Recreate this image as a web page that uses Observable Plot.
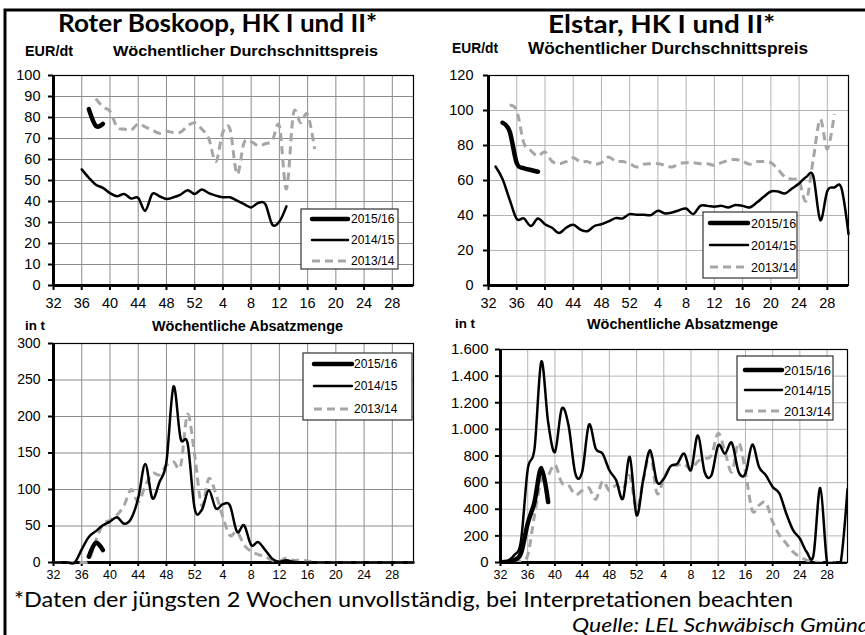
<!DOCTYPE html>
<html>
<head>
<meta charset="utf-8">
<script src="https://cdn.jsdelivr.net/npm/d3@7"></script>
<script src="https://cdn.jsdelivr.net/npm/@observablehq/plot@0.6"></script>
<style>
  body { margin: 0; background: #fff; }
  #root { position: relative; width: 865px; height: 635px; overflow: hidden; background: #fff; }
  .chart { position: absolute; }
  .chart svg { overflow: visible; }
  #overlay { position: absolute; left: 0; top: 0; pointer-events: none; }
</style>
</head>
<body>
<div id="root"></div>
<script>
// ---------- Kategorien (Kalenderwochen) ----------
const weekLabels = [32,33,34,35,36,37,38,39,40,41,42,43,44,45,46,47,48,49,50,51,52,
  1,2,3,4,5,6,7,8,9,10,11,12,13,14,15,16,17,18,19,20,21,22,23,24,25,26,27,28,29,30,31];
const weekTickLabels = [32,36,40,44,48,52,4,8,12,16,20,24,28];
const seasons = ["2015/16", "2014/15", "2013/14"];

// ---------- Roter Boskoop: Wöchentlicher Durchschnittspreis (EUR/dt) ----------
const boskoopPreis1516Start = 37;
const boskoopPreis1516 = [84, 76, 77];
const boskoopPreis1415Start = 36;
const boskoopPreis1415 = [55.3, 51.3, 48, 46.5, 44, 42.5, 43.6, 41.4, 41.7, 35.6, 43.6, 42.5, 41.2, 42, 43.3,
  45.4, 43.6, 45.7, 44, 42.8, 42, 42, 40.4, 38.8, 37.2, 39.3, 38.8, 29, 30.5, 37.7];
const boskoopPreis1314Start = 38;
const boskoopPreis1314 = [89, 85, 83, 75.5, 74.5, 74, 77, 75.5, 74, 72.5, 73.5, 72.8, 73, 76, 77.5, 74.5,
  70, 59, 73, 74.5, 53, 68, 68.5, 66.5, 67.5, 69, 76, 46, 82, 77.5, 81.5, 65];
const boskoopPreisTicks = [0,10,20,30,40,50,60,70,80,90,100];

// ---------- Elstar: Wöchentlicher Durchschnittspreis (EUR/dt) ----------
const elstarPreis1516Start = 34;
const elstarPreis1516 = [93, 88, 70, 67, 66, 65];
const elstarPreis1415Start = 33;
const elstarPreis1415 = [68, 60.7, 49, 38, 38.3, 34, 38.3, 35, 33, 30, 33, 34.7, 32, 31, 34, 35, 36.6, 38.5,
  38.3, 40.8, 40.4, 40.4, 40.2, 42.7, 41.2, 41.7, 43, 44, 40.8, 45.5, 45.5, 45, 45.5, 44.6, 46, 45.5, 44.6,
  47.4, 50.7, 53.7, 53.7, 52.6, 55.4, 58.3, 62, 62.6, 37.4, 54, 56, 55.6, 29.4];
const elstarPreis1314Start = 35;
const elstarPreis1314 = [103, 100, 81.6, 77, 74, 76.3, 71, 69.6, 70.8, 73, 70.8, 70.8, 69.3, 70.2, 73.4, 71,
  70.8, 69.6, 67.7, 69.3, 69.6, 69.6, 68.7, 67.7, 69.6, 70.2, 70.2, 69.6, 69.6, 68.7, 70.2, 71.5, 72, 71,
  69.3, 70.8, 70.8, 70.2, 66.4, 62, 60.7, 59.8, 48.4, 72, 95, 78, 98];
const elstarPreisTicks = [0,20,40,60,80,100,120];

// ---------- Roter Boskoop: Wöchentliche Absatzmenge (t) ----------
const boskoopMenge1516Start = 37;
const boskoopMenge1516 = [8, 27, 17];
const boskoopMenge1415Start = 32;
const boskoopMenge1415 = [0, 0, 0, 0, 18, 35, 43, 51, 56, 62, 53, 60, 88, 135, 88, 110, 138, 241, 170, 163,
  74, 72, 99, 74, 80, 78, 42, 51, 24, 28, 17, 5, 1, 3, 1, 0, 0, 0, 0, 0, 0, 0, 0, 0, 0, 0, 0, 0, 0, 0, 0, 0];
const boskoopMenge1314Start = 32;
const boskoopMenge1314 = [0, 0, 0, 0, 0, 3, 30, 52, 58, 65, 78, 100, 83, 105, 122, 120, 133, 138, 132, 203,
  147, 78, 115, 94, 62, 37, 42, 24, 15, 11, 8, 3, 2, 6, 3, 3, 2, 0, 0, 0, 0, 0, 0, 0, 0, 0, 0, 0, 0, 0, 0, 0];
const boskoopMengeTicks = [0,50,100,150,200,250,300];

// ---------- Elstar: Wöchentliche Absatzmenge (t) ----------
const elstarMenge1516Start = 32;
const elstarMenge1516 = [0, 5, 18, 68, 293, 455, 710, 455];
const elstarMenge1415Start = 32;
const elstarMenge1415 = [0, 10, 55, 160, 700, 855, 1510, 1055, 830, 1155, 1030, 668, 680, 1035, 855, 818,
  693, 618, 480, 793, 355, 630, 843, 605, 630, 723, 743, 818, 693, 955, 680, 655, 880, 818, 900, 680, 668,
  885, 718, 655, 568, 518, 368, 243, 180, 80, 55, 560, 0, 0, 0, 550];
const elstarMenge1314Start = 32;
const elstarMenge1314 = [0, 0, 0, 10, 55, 355, 618, 655, 735, 600, 580, 510, 540, 560, 475, 610, 540, 580,
  550, 650, 400, 620, 820, 520, 630, 720, 730, 740, 700, 760, 780, 805, 970, 830, 680, 900, 680, 390, 430,
  450, 305, 205, 143, 80, 43, 18, 5, 0, 0, 0, 0, 0];
const elstarMengeTicks = [0,200,400,600,800,1000,1200,1400,1600];

// ---------- Hilfsfunktionen ----------
const xTicks = weekTickLabels.map(w => weekLabels.indexOf(w));
function rows(values, startWeek, season) {
  const s = weekLabels.indexOf(startWeek);
  return values.map((v, k) => ({i: s + k, v, season}));
}
const styles = {
  "2015/16": {stroke: "#000", strokeWidth: 4.5, strokeLinecap: "round"},
  "2014/15": {stroke: "#000", strokeWidth: 2.5, strokeLinecap: "round"},
  "2013/14": {stroke: "#a6a6a6", strokeWidth: 3, strokeDasharray: "8,5", strokeLinecap: "butt"}
};
const deFormat = d => d3.format(",")(d).replace(/,/g, ".");

function chart(c) {
  const lines = ["2013/14", "2014/15", "2015/16"].map(s =>
    Plot.line(c.series[s], {x: "i", y: "v", curve: "cardinal", strokeLinejoin: "round",
      clip: c.clip ? "frame" : undefined, ...styles[s]}));
  const svgNode = Plot.plot({
    width: c.width, height: c.height,
    marginLeft: c.ml, marginRight: c.mr, marginTop: c.mt, marginBottom: c.mb,
    x: {domain: [0, 51]},
    y: {domain: c.yDomain},
    style: {fontFamily: "'Liberation Sans', Arial, sans-serif", fontSize: c.yFont + "px", color: "#000", background: "transparent"},
    marks: [
      Plot.ruleX(xTicks.filter(t => t > 0), {x: d => d, stroke: c.grid, strokeWidth: 1}),
      Plot.ruleY(c.yTicks.filter(t => t > 0), {y: d => d, stroke: c.grid, strokeWidth: 1}),
      Plot.frame({stroke: "#000", strokeWidth: 1.2}),
      Plot.axisY({ticks: c.yTicks, tickSize: 5, tickPadding: c.yPad, tickFormat: c.yFormat,
        strokeWidth: 2, label: null}),
      Plot.axisX({ticks: xTicks, tickSize: c.xTick, tickPadding: c.xPad, tickFormat: i => weekLabels[i],
        strokeWidth: 2, label: null}),
      Plot.ruleX([0], {stroke: "#000", strokeWidth: 3}),
      Plot.ruleY([0], {stroke: "#000", strokeWidth: 3}),
      ...lines
    ]
  });
  const sel = d3.select(svgNode);
  sel.selectAll('g[aria-label="x-axis tick label"]').style("font-size", c.xFont + "px").attr("font-size", c.xFont);
  sel.selectAll('g[aria-label="y-axis tick label"]').style("font-size", c.yFont + "px").attr("font-size", c.yFont);
  return svgNode;
}

const root = document.getElementById("root");
function place(node, left, top) {
  const div = document.createElement("div");
  div.className = "chart";
  div.style.left = left + "px";
  div.style.top = top + "px";
  div.appendChild(node);
  root.appendChild(div);
}

place(chart({
  width: 430, height: 250, ml: 53, mr: 17, mt: 15, mb: 25,
  yDomain: [0, 100], yTicks: boskoopPreisTicks, yFormat: d => d, yPad: 8, yFont: 14.5,
  xTick: 5, xPad: 7, xFont: 14.5, grid: "#8c8c8c",
  series: {
    "2015/16": rows(boskoopPreis1516, boskoopPreis1516Start, "2015/16"),
    "2014/15": rows(boskoopPreis1415, boskoopPreis1415Start, "2014/15"),
    "2013/14": rows(boskoopPreis1314, boskoopPreis1314Start, "2013/14")
  }
}), 0, 60);

place(chart({
  width: 435, height: 250, ml: 58, mr: 17, mt: 15, mb: 25,
  yDomain: [0, 120], yTicks: elstarPreisTicks, yFormat: d => d, yPad: 10, yFont: 14.5,
  xTick: 5, xPad: 7, xFont: 14.5, grid: "#b4b4b4",
  series: {
    "2015/16": rows(elstarPreis1516, elstarPreis1516Start, "2015/16"),
    "2014/15": rows(elstarPreis1415, elstarPreis1415Start, "2014/15"),
    "2013/14": rows(elstarPreis1314, elstarPreis1314Start, "2013/14")
  }
}), 430, 60);

place(chart({
  width: 430, height: 257, ml: 53, mr: 17, mt: 13, mb: 25,
  yDomain: [0, 300], yTicks: boskoopMengeTicks, yFormat: d => d, yPad: 8, yFont: 14,
  xTick: 4, xPad: 4, xFont: 12.5, grid: "#8c8c8c",
  series: {
    "2015/16": rows(boskoopMenge1516, boskoopMenge1516Start, "2015/16"),
    "2014/15": rows(boskoopMenge1415, boskoopMenge1415Start, "2014/15"),
    "2013/14": rows(boskoopMenge1314, boskoopMenge1314Start, "2013/14")
  }
}), 0, 330);

place(chart({
  width: 435, height: 257, ml: 70, mr: 18, mt: 19, mb: 25,
  yDomain: [0, 1600], yTicks: elstarMengeTicks, yFormat: deFormat, yPad: 7, yFont: 15,
  xTick: 4, xPad: 4, xFont: 12.5, grid: "#b4b4b4", clip: true,
  series: {
    "2015/16": rows(elstarMenge1516, elstarMenge1516Start, "2015/16"),
    "2014/15": rows(elstarMenge1415, elstarMenge1415Start, "2014/15"),
    "2013/14": rows(elstarMenge1314, elstarMenge1314Start, "2013/14")
  }
}), 430, 330);

// ---------- Texte, Rahmen, Legenden ----------
const svg = d3.select(root).append("svg").attr("id", "overlay").attr("width", 865).attr("height", 635);
svg.append("path").attr("d", "M5,635V10H870").attr("fill", "none").attr("stroke", "#000").attr("stroke-width", 3);

const serif = "Lato, 'Open Sans', sans-serif";
const arial = "'Liberation Sans', Arial, sans-serif";
function txt(s, x, y, o) {
  const t = svg.append("text").attr("x", x).attr("y", y).text(s)
    .attr("font-family", o.family).attr("font-size", o.size)
    .attr("font-weight", o.weight || "normal").attr("font-style", o.style || "normal").attr("fill", "#000");
  if (o.len) t.attr("textLength", o.len).attr("lengthAdjust", "spacingAndGlyphs");
  return t;
}
txt("Roter Boskoop, HK I und II*", 58, 32, {family: serif, size: 25, weight: "bold", len: 319});
txt("Elstar, HK I und II*", 548, 33, {family: serif, size: 25, weight: "bold", len: 227});
txt("EUR/dt", 25, 56, {family: arial, size: 14, weight: "bold", len: 48});
txt("Wöchentlicher Durchschnittspreis", 113, 56, {family: arial, size: 15.5, weight: "bold", len: 265});
txt("EUR/dt", 452, 53, {family: arial, size: 14, weight: "bold", len: 46});
txt("Wöchentlicher Durchschnittspreis", 528, 54, {family: arial, size: 16, weight: "bold", len: 280});
txt("in t", 25, 330, {family: arial, size: 13.5, weight: "bold", len: 20});
txt("Wöchentliche Absatzmenge", 152, 331, {family: arial, size: 14.5, weight: "bold", len: 191});
txt("in t", 455, 328, {family: arial, size: 13.5, weight: "bold", len: 20});
txt("Wöchentliche Absatzmenge", 587, 329, {family: arial, size: 14.5, weight: "bold", len: 191});
txt("*Daten der jüngsten 2 Wochen unvollständig, bei Interpretationen beachten", 14, 607,
  {family: serif, size: 20.5, len: 779});
txt("Quelle: LEL Schwäbisch Gmünd", 572, 632, {family: serif, size: 19, style: "italic", len: 298});

function legend(x0, y0, w, h, ys, lx1, lx2, tx, size) {
  svg.append("rect").attr("x", x0).attr("y", y0).attr("width", w).attr("height", h)
    .attr("fill", "#fff").attr("stroke", "#333").attr("stroke-width", 1.2);
  seasons.forEach((s, k) => {
    const st = styles[s];
    svg.append("line").attr("x1", lx1).attr("x2", lx2).attr("y1", ys[k]).attr("y2", ys[k])
      .attr("stroke", st.stroke).attr("stroke-width", st.strokeWidth)
      .attr("stroke-dasharray", st.strokeDasharray || null).attr("stroke-linecap", st.strokeLinecap);
    txt(s, tx, ys[k] + size * 0.36, {family: arial, size});
  });
}
legend(301, 209, 97, 60, [219, 240, 261], 312, 348, 351, 12);
legend(703, 212, 94, 66, [223, 245, 267], 710, 748, 751, 12.5);
legend(303, 353, 109, 67, [364, 386, 409], 314, 352, 354, 12);
legend(737, 356, 96, 64, [370, 390, 411], 745, 782, 784, 13);
</script>
</body>
</html>
